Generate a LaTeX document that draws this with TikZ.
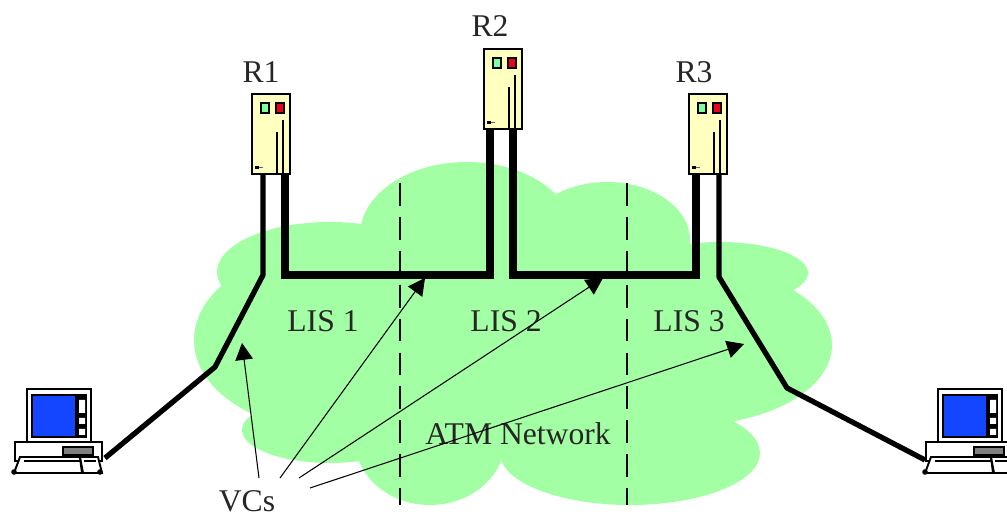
\documentclass[tikz,border=0pt]{standalone}
\usepackage{fontspec}
\setmainfont{Liberation Serif}
\definecolor{cloudgreen}{RGB}{163,255,163}
\definecolor{routeryellow}{RGB}{255,255,192}
\definecolor{lampgreen}{RGB}{128,255,160}
\definecolor{lampred}{RGB}{235,0,30}
\definecolor{screenblue}{RGB}{20,70,255}
\usetikzlibrary{arrows.meta,positioning,calc}
\tikzset{
  lbl/.style={font=\fontsize{18}{20}\selectfont,inner sep=0pt,text=black!85},
  wire/.style={line width=3pt,line join=round},
  widewire/.style={line width=4.4pt,line join=miter},
  vc/.style={line width=0.6pt,-{Triangle[length=9.6pt,width=10pt]}},
  lisline/.style={line width=0.75pt,dash pattern=on 13pt off 6.3pt},
  router/.pic={
    \node[draw,line width=1pt,fill=routeryellow,minimum width=22pt,minimum height=45.5pt,inner sep=0pt] (-body) at (0,0) {};
    \draw[line width=0.8pt,fill=lampgreen] (-10,-31) rectangle (-2,-21);
    \draw[line width=0.8pt,fill=lampred] (5,-31) rectangle (13,-21);
    \draw[line width=0.8pt] (6,-2) -- (6,40) (12,-14) -- (12,40);
    \fill (-16,32) rectangle (-12,35);
    \fill[black!60] (-12,33) rectangle (-8,34);
  },
  computer/.pic={
    \node[draw,line width=1.1pt,fill=white,minimum width=36pt,minimum height=30pt,inner sep=0pt] (-body) at (59,415.5) {};
    \fill[screenblue,draw=black,line width=0.6pt] (32,395) rectangle (76,437);
    \fill (77,394) rectangle (87,438);
    \fill[white] (79,400) rectangle (85,413) (79,418) rectangle (85,424) (79,429) rectangle (85,435);
    \draw[line width=1.1pt,fill=white] (15,442) rectangle (102,461);
    \draw[line width=0.8pt,fill=black!50] (63,447) rectangle (93,455);
    \draw[line width=1.1pt,fill=white] (20,457) -- (80,457) -- (82,473) -- (14,473) -- cycle;
    \draw[line width=1.1pt,fill=white] (80,457) -- (98,457) -- (102,473) -- (83,473) -- cycle;
    \draw[line width=0.8pt] (24,461) -- (80,461) (84,461) -- (96,461);
    \fill (14,472) circle (2.8) (100,472) circle (2.8);
  }
}
\begin{document}
\begin{tikzpicture}[>=Stealth,x=0.02cm,y=-0.02cm]
  \useasboundingbox (0,0) rectangle (1007,516);
  % cloud
  \fill[cloudgreen] (330,272) ellipse (113 and 50)
    (330,340) ellipse (136 and 90)
    (330,430) ellipse (88 and 33)
    (430,440) ellipse (75 and 65)
    (630,453) ellipse (130 and 52)
    (690,345) ellipse (142 and 80)
    (720,273) ellipse (88 and 31)
    (607,240) ellipse (83 and 58)
    (467,235) ellipse (107 and 73)
    (520,330) ellipse (200 and 130);
  % LIS borders
  \coordinate (top1) at (400,183);
  \coordinate (bot1) at (400,505);
  \coordinate (top2) at (627,183);
  \coordinate (bot2) at (627,505);
  \draw[lisline] (top1) -- (bot1);
  \draw[lisline] (top2) -- (bot2);
  % routers
  \pic (r1) at (271,134) {router};
  \pic (r2) at (503,89) {router};
  \pic (r3) at (708,134) {router};
  \node[lbl] (lr1) at (261,72) {R1};
  \node[lbl] (lr2) at (490,26) {R2};
  \node[lbl] (lr3) at (694,72) {R3};
  % hosts
  \pic (c1) at (0,0) {computer};
  \pic (c2) at (911,0) {computer};
  % links
  \draw[wire] ($(r1-body.south)+(-8,0)$) -- (263,275) -- (215,367) -- (105,458);
  \draw[widewire] ($(r1-body.south)+(14,0)$) -- (285,275) -- (490,275) -- ($(r2-body.south)+(-13,0)$);
  \draw[widewire] ($(r2-body.south)+(10,0)$) -- (513,275) -- (696,275) -- ($(r3-body.south)+(-12,0)$);
  \draw[wire] ($(r3-body.south)+(11,0)$) -- (719,277) -- (787,388) -- (925,460);
  % labels
  \node[lbl] (lis1) at (323,321) {LIS 1};
  \node[lbl] (lis2) at (506,321) {LIS 2};
  \node[lbl] (lis3) at (689,321) {LIS 3};
  \node[lbl] (atm) at (518,434) {ATM Network};
  \node[lbl] (vcs) at (247,501) {VCs};
  % virtual circuits
  \coordinate (vc1) at (242,343);
  \coordinate (vc2) at (425,278);
  \coordinate (vc3) at (603,278);
  \coordinate (vc4) at (744,344);
  \draw[vc] ($(vcs)+(12,-23)$) -- (vc1);
  \draw[vc] ($(vcs)+(33,-23)$) -- (vc2);
  \draw[vc] ($(vcs)+(52,-23)$) -- (vc3);
  \draw[vc] ($(vcs)+(63,-13)$) -- (vc4);
\end{tikzpicture}
\end{document}
